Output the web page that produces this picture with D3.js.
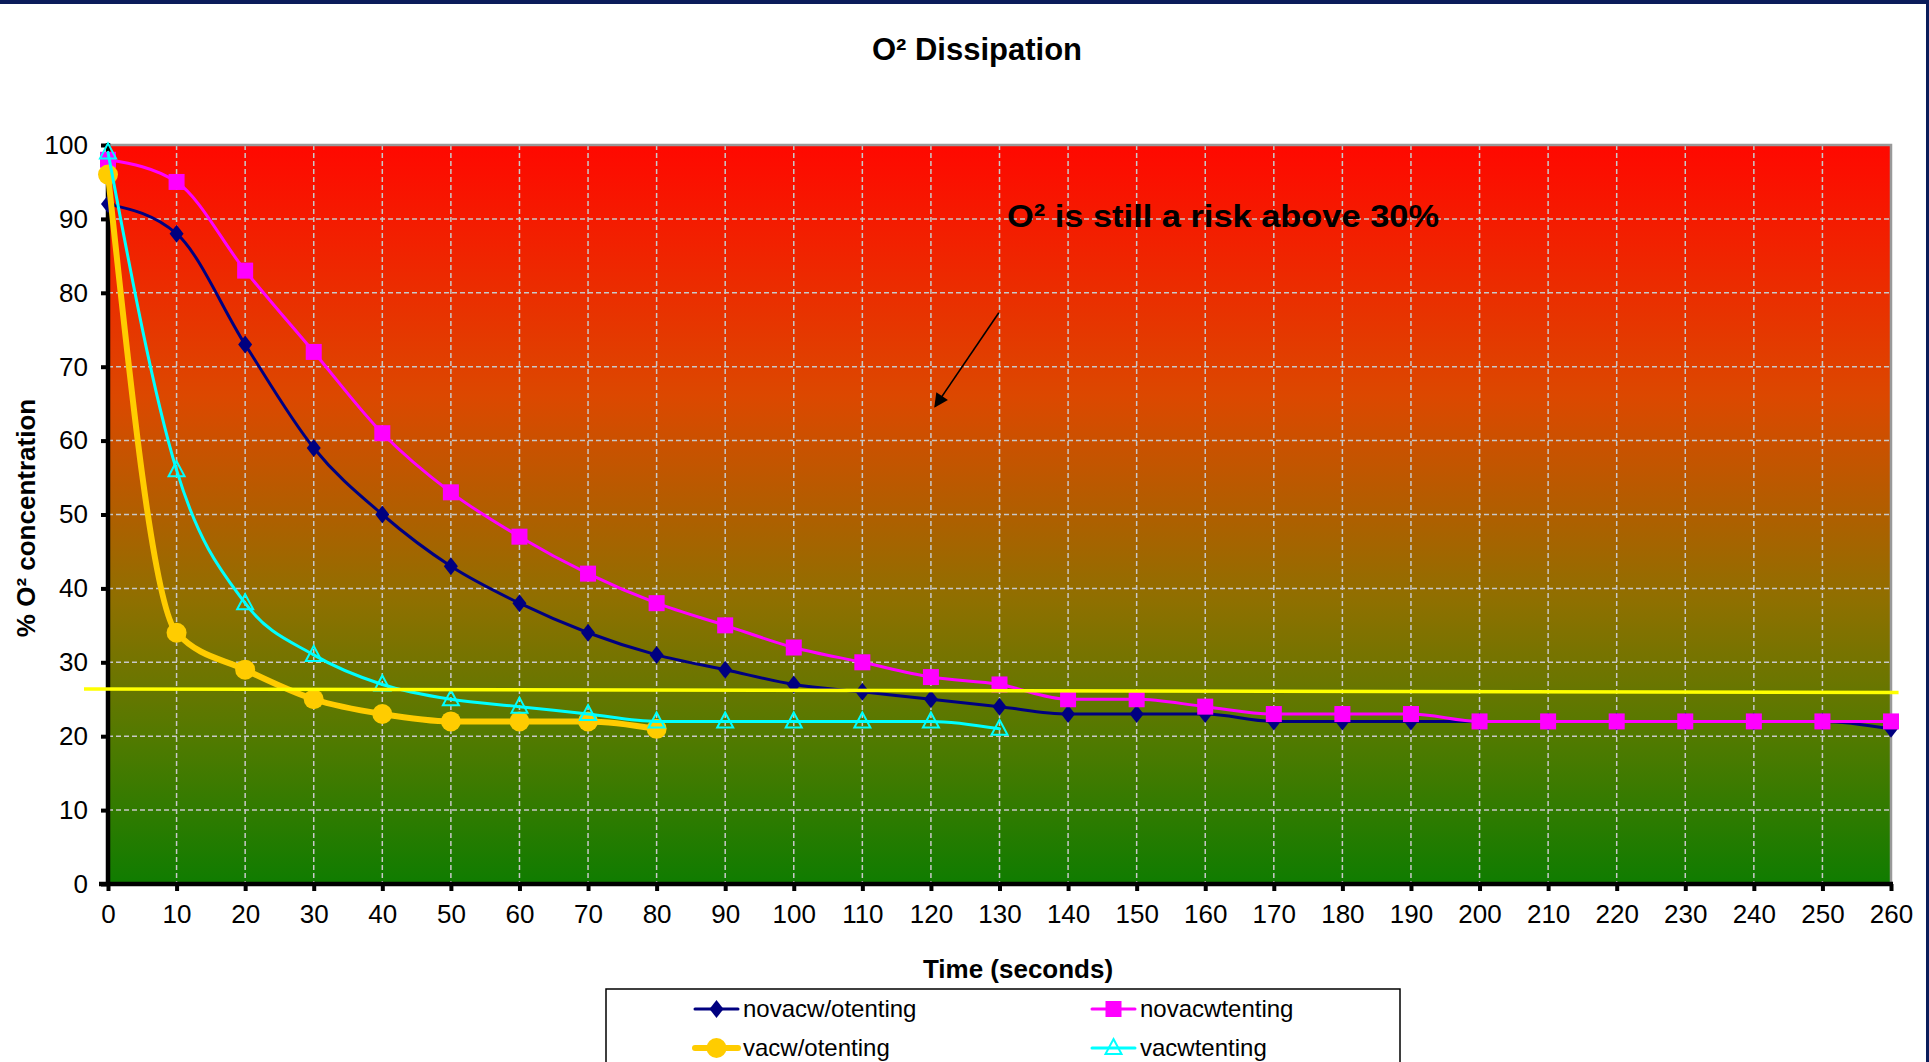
<!DOCTYPE html>
<html>
<head>
<meta charset="utf-8">
<script src="https://cdn.jsdelivr.net/npm/d3@7"></script>
<style>
  html, body { margin: 0; padding: 0; background: #fff; }
  svg { display: block; font-family: "Liberation Sans", Arial, sans-serif; }
</style>
</head>
<body>
<svg id="chart" width="1929" height="1062"></svg>
<script>
// ---------- data ----------
const timeTicks = [0,10,20,30,40,50,60,70,80,90,100,110,120,130,140,150,160,170,180,190,200,210,220,230,240,250,260];
const yTicks = [0,10,20,30,40,50,60,70,80,90,100];

const novacwOtentingTime = [0,10,20,30,40,50,60,70,80,90,100,110,120,130,140,150,160,170,180,190,200,210,220,230,240,250,260];
const novacwOtenting     = [92,88,73,59,50,43,38,34,31,29,27,26,25,24,23,23,23,22,22,22,22,22,22,22,22,22,21];

const novacwtentingTime = [0,10,20,30,40,50,60,70,80,90,100,110,120,130,140,150,160,170,180,190,200,210,220,230,240,250,260];
const novacwtenting     = [98,95,83,72,61,53,47,42,38,35,32,30,28,27,25,25,24,23,23,23,22,22,22,22,22,22,22];

const vacwOtentingTime = [0,10,20,30,40,50,60,70,80];
const vacwOtenting     = [96,34,29,25,23,22,22,22,21];

const vacwtentingTime = [0,10,20,30,40,50,60,70,80,90,100,110,120,130];
const vacwtenting     = [99,56,38,31,27,25,24,23,22,22,22,22,22,21];

const seriesNames = ["novacw/otenting","novacwtenting","vacw/otenting","vacwtenting"];

// drawn threshold line (time, %) and annotation arrow (time, %)
const thresholdX = [-3.5, 261.1];
const thresholdY = [26.4, 25.9];
const arrowX = [129.9, 120.6];
const arrowY = [77.3, 64.6];
const annotationText = "O² is still a risk above 30%";
const titleText = "O² Dissipation";
const xTitle = "Time (seconds)";
const yTitle = "% O² concentration";

// ---------- layout ----------
const svg = d3.select("#chart");
const W = 1929, H = 1062;
const x = d3.scaleLinear().domain([0, 260]).range([108, 1891]);
const y = d3.scaleLinear().domain([0, 100]).range([884, 145]);

// frame
svg.append("rect").attr("x",0).attr("y",0).attr("width",W).attr("height",H).attr("fill","#fff");
svg.append("rect").attr("x",0).attr("y",0).attr("width",W).attr("height",4).attr("fill","#0B1C5A");
svg.append("rect").attr("x",1926).attr("y",0).attr("width",3).attr("height",H).attr("fill","#0B1C5A");

// gradient
const defs = svg.append("defs");
const grad = defs.append("linearGradient").attr("id","bg").attr("x1",0).attr("y1",0).attr("x2",0).attr("y2",1);
[[0,"#FF0800"],[0.34,"#DC4800"],[0.62,"#8E7000"],[0.81,"#4F7A00"],[1,"#0F7C00"]].forEach(s=>{
  grad.append("stop").attr("offset",s[0]).attr("stop-color",s[1]);
});
svg.append("rect")
  .attr("x", x(0)).attr("y", y(100))
  .attr("width", x(260)-x(0)).attr("height", y(0)-y(100))
  .attr("fill","url(#bg)");

// grid
const grid = svg.append("g");
grid.selectAll("line.v").data(timeTicks.filter(t=>t>0 && t<260)).join("line")
  .attr("x1",d=>x(d)).attr("x2",d=>x(d)).attr("y1",y(100)).attr("y2",y(0))
  .attr("stroke","#C8C8C8").attr("stroke-width",1.5).attr("stroke-dasharray","5,3");
grid.selectAll("line.h").data(yTicks.filter(t=>t>0 && t<100)).join("line")
  .attr("x1",x(0)).attr("x2",x(260)).attr("y1",d=>y(d)).attr("y2",d=>y(d))
  .attr("stroke","#C8C8C8").attr("stroke-width",1.5).attr("stroke-dasharray","5,3");
// plot border (top & right gray)
svg.append("path")
  .attr("d", `M${x(0)},${y(100)}H${x(260)}V${y(0)}`)
  .attr("fill","none").attr("stroke","#999").attr("stroke-width",2.5);

// axes
const yAxis = d3.axisLeft(y).tickValues(yTicks).tickSize(7).tickPadding(13).tickFormat(d3.format("d"));
const gy = svg.append("g").attr("transform",`translate(${x(0)},0)`).call(yAxis);
const xAxis = d3.axisBottom(x).tickValues(timeTicks).tickSize(7).tickPadding(14).tickFormat(d3.format("d"));
const gx = svg.append("g").attr("transform",`translate(0,${y(0)})`).call(xAxis);
[gx, gy].forEach(g=>{
  g.select(".domain").attr("stroke","#000").attr("stroke-width",4.5);
  g.selectAll(".tick line").attr("stroke","#000").attr("stroke-width",4);
  g.selectAll(".tick text").attr("fill","#000").attr("font-size",26)
    .attr("font-family",'"Liberation Sans", Arial, sans-serif');
});
gy.select(".domain").attr("d", `M0,${y(100)-2}V${y(0)+2}`);
gx.select(".domain").attr("d", `M${x(0)-9},0H${x(260)+2}`);

// series
const curve = d3.curveMonotoneX;
function drawSeries(xs, ys, color, width) {
  const pts = xs.map((t,i)=>[x(t), y(ys[i])]);
  svg.append("path").attr("d", d3.line().curve(curve)(pts))
    .attr("fill","none").attr("stroke",color).attr("stroke-width",width)
    .attr("stroke-linejoin","round").attr("stroke-linecap","round");
  return pts;
}

// navy diamonds
let p1 = drawSeries(novacwOtentingTime, novacwOtenting, "#000080", 3);
svg.append("g").selectAll("path").data(p1).join("path")
  .attr("transform",d=>`translate(${d[0]},${d[1]})`)
  .attr("d", "M0,-9L7,0L0,9L-7,0Z").attr("fill","#000080");

// magenta squares
let p2 = drawSeries(novacwtentingTime, novacwtenting, "#FF00FF", 3);
svg.append("g").selectAll("rect").data(p2).join("rect")
  .attr("x",d=>d[0]-8).attr("y",d=>d[1]-8).attr("width",16).attr("height",16).attr("fill","#FF00FF");

// yellow circles
let p3 = drawSeries(vacwOtentingTime, vacwOtenting, "#FFCC00", 6);
svg.append("g").selectAll("circle").data(p3).join("circle")
  .attr("cx",d=>d[0]).attr("cy",d=>d[1]).attr("r",10).attr("fill","#FFCC00");

// cyan triangles
let p4 = drawSeries(vacwtentingTime, vacwtenting, "#00FFFF", 3);
svg.append("g").selectAll("path").data(p4).join("path")
  .attr("transform",d=>`translate(${d[0]},${d[1]})`)
  .attr("d","M0,-9L8,6L-8,6Z").attr("fill","none").attr("stroke","#00FFFF").attr("stroke-width",2);

// threshold line
svg.append("line")
  .attr("x1",x(thresholdX[0])).attr("y1",y(thresholdY[0]))
  .attr("x2",x(thresholdX[1])).attr("y2",y(thresholdY[1]))
  .attr("stroke","#FFFF00").attr("stroke-width",3.5);

// arrow
defs.append("marker").attr("id","arrow").attr("viewBox","0 0 10 10").attr("refX",9).attr("refY",5)
  .attr("orient","auto").attr("markerUnits","userSpaceOnUse")
  .attr("markerWidth",16).attr("markerHeight",14)
  .append("path").attr("d","M0,0L10,5L0,10Z").attr("fill","#000");
svg.append("line")
  .attr("x1",x(arrowX[0])).attr("y1",y(arrowY[0]))
  .attr("x2",x(arrowX[1])).attr("y2",y(arrowY[1]))
  .attr("stroke","#000").attr("stroke-width",1.6).attr("marker-end","url(#arrow)");

// annotation
svg.append("text").attr("x",1007).attr("y",227)
  .attr("font-size",32).attr("font-weight","bold").attr("fill","#000")
  .attr("textLength",432).attr("lengthAdjust","spacingAndGlyphs")
  .text(annotationText);

// titles
svg.append("text").attr("x",977).attr("y",60).attr("text-anchor","middle")
  .attr("font-size",31).attr("font-weight","bold").text(titleText);
svg.append("text").attr("x",1018).attr("y",978).attr("text-anchor","middle")
  .attr("font-size",26).attr("font-weight","bold").text(xTitle);
svg.append("text").attr("transform","translate(35,518) rotate(-90)").attr("text-anchor","middle")
  .attr("font-size",26).attr("font-weight","bold").text(yTitle);

// legend
svg.append("rect").attr("x",606).attr("y",989).attr("width",794).attr("height",100)
  .attr("fill","#fff").attr("stroke","#000").attr("stroke-width",1.5);
const legendItems = [
  {name: seriesNames[0], color:"#000080", w:3, col:0, row:0, mk:"diamond"},
  {name: seriesNames[1], color:"#FF00FF", w:3, col:1, row:0, mk:"square"},
  {name: seriesNames[2], color:"#FFCC00", w:6, col:0, row:1, mk:"circle"},
  {name: seriesNames[3], color:"#00FFFF", w:3, col:1, row:1, mk:"triangle"}
];
const colX = [695, 1092], rowY = [1009, 1048];
legendItems.forEach(it=>{
  const lx = colX[it.col], ly = rowY[it.row];
  const g = svg.append("g");
  g.append("line").attr("x1",lx).attr("x2",lx+43).attr("y1",ly).attr("y2",ly)
    .attr("stroke",it.color).attr("stroke-width",it.w).attr("stroke-linecap","round");
  const cx = lx+21.5;
  if (it.mk==="diamond") g.append("path").attr("d",`M${cx},${ly-9}L${cx+7},${ly}L${cx},${ly+9}L${cx-7},${ly}Z`).attr("fill",it.color);
  if (it.mk==="square") g.append("rect").attr("x",cx-8).attr("y",ly-8).attr("width",16).attr("height",16).attr("fill",it.color);
  if (it.mk==="circle") g.append("circle").attr("cx",cx).attr("cy",ly).attr("r",10).attr("fill",it.color);
  if (it.mk==="triangle") g.append("path").attr("d",`M${cx},${ly-9}L${cx+8},${ly+6}L${cx-8},${ly+6}Z`).attr("fill","none").attr("stroke",it.color).attr("stroke-width",2);
  g.append("text").attr("x",lx+48).attr("y",ly+8).attr("font-size",24).attr("fill","#000").text(it.name);
});
</script>
</body>
</html>
